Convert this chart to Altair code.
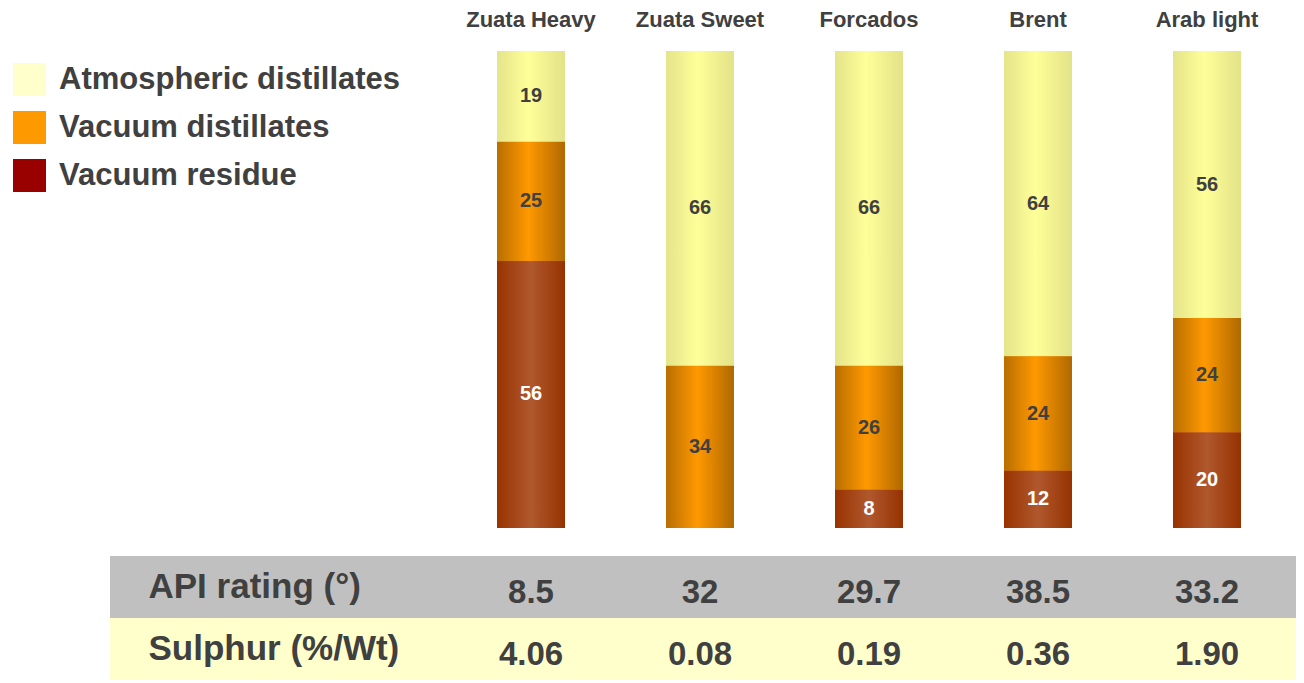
import altair as alt
import pandas as pd

# ---------------- data ----------------
crudes = ["Zuata Heavy", "Zuata Sweet", "Forcados", "Brent", "Arab light"]
components = ["Atmospheric distillates", "Vacuum distillates", "Vacuum residue"]
atmospheric = [19, 66, 66, 64, 56]
vacuum_distillates = [25, 34, 26, 24, 24]
vacuum_residue = [56, 0, 8, 12, 20]
table_rows = ["API rating (°)", "Sulphur (%/Wt)"]
api_rating = ["8.5", "32", "29.7", "38.5", "33.2"]
sulphur = ["4.06", "0.08", "0.19", "0.36", "1.90"]

# ---------------- styles ----------------
TEXT = "#404040"
legend_colors = ["#ffffcc", "#ff9900", "#990000"]
row_colors = ["#c0c0c0", "#ffffcc"]


def grad(stops):
    return alt.Gradient(
        gradient="linear",
        x1=0, x2=1, y1=0, y2=0,
        stops=[alt.GradientStop(color=c, offset=o) for o, c in stops],
    )


gradients = {
    "Atmospheric distillates": grad([(0, "#e4e48a"), (0.46, "#ffff99"), (1, "#e2e288")]),
    "Vacuum distillates": grad([(0, "#b86e00"), (0.46, "#ff9900"), (1, "#b06800")]),
    "Vacuum residue": grad([(0, "#993300"), (0.5, "#b0582e"), (1, "#963200")]),
}

series = {
    components[0]: atmospheric,
    components[1]: vacuum_distillates,
    components[2]: vacuum_residue,
}
stack_rank = {components[2]: 0, components[1]: 1, components[0]: 2}
bars_df = pd.DataFrame(
    [
        {"crude": c, "component": comp, "value": vals[i], "rank": stack_rank[comp]}
        for comp, vals in series.items()
        for i, c in enumerate(crudes)
    ]
)
table_df = pd.DataFrame(
    [
        {"crude": c, "row": r, "text": t}
        for r, vals in zip(table_rows, [api_rating, sulphur])
        for c, t in zip(crudes, vals)
    ]
)
rows_df = pd.DataFrame({"row": table_rows})

# ---------------- scales / encodings ----------------
x_scale = alt.Scale(domain=crudes, range=[336.5, 1181.5],
                    paddingInner=0.598, paddingOuter=0.299)
X = alt.X(
    "crude:N",
    scale=x_scale,
    title=None,
    axis=alt.Axis(
        orient="top", labelFontSize=22, labelFontWeight="bold", labelColor=TEXT,
        labelPadding=25, labelBaseline="alphabetic", labelAngle=0,
        labelOverlap=False, domain=False, ticks=False, tickSize=0, grid=False,
        minExtent=42, maxExtent=42,
    ),
)
y_bar = alt.Scale(domain=[0, 100], range=[477, 0], nice=False, zero=False)
y_tab = alt.Scale(domain=table_rows, range=[505, 629], paddingInner=0, paddingOuter=0)

base = alt.Chart(bars_df).transform_stack(
    stack="value", groupby=["crude"], as_=["y0", "y1"],
    sort=[alt.SortField("rank", order="ascending")],
)

# table background rows (with row labels as axis labels)
rows_layer = alt.Chart(rows_df).mark_rect().encode(
    y=alt.Y(
        "row:N", scale=y_tab, title=None,
        axis=alt.Axis(
            orient="left", labelFontSize=35, labelFontWeight="bold", labelColor=TEXT,
            labelAlign="left", labelPadding=-38, labelLimit=0, domain=False,
            ticks=False, tickSize=0, grid=False, minExtent=102, maxExtent=102, zindex=2,
        ),
    ),
    color=alt.Color("row:N", scale=alt.Scale(domain=table_rows, range=row_colors), legend=None),
)

# flat bars (give the legend)
legend_layer = base.mark_bar().encode(
    x=X,
    y=alt.Y("y0:Q", scale=y_bar, axis=None),
    y2="y1:Q",
    color=alt.Color(
        "component:N",
        scale=alt.Scale(domain=components, range=legend_colors),
        legend=alt.Legend(
            title=None, orient="none", legendX=-97, legendY=12, padding=0,
            symbolType="square", symbolSize=1089, symbolStrokeWidth=0, symbolOpacity=1,
            labelFontSize=31, labelFontWeight="bold", labelColor=TEXT, labelOffset=13,
            labelLimit=600, rowPadding=15,
        ),
    ),
)

grad_layers = [
    base.transform_filter(alt.datum.component == comp)
    .mark_bar(fill=gradients[comp])
    .encode(x=X, y=alt.Y("y0:Q", scale=y_bar, axis=None), y2="y1:Q")
    for comp in components
]

bar_labels = (
    base.transform_filter(alt.datum.value > 0)
    .transform_calculate(mid="(datum.y0 + datum.y1) / 2")
    .mark_text(fontSize=20, fontWeight="bold", baseline="middle")
    .encode(
        x=X,
        y=alt.Y("mid:Q", scale=y_bar, axis=None),
        text="value:Q",
        color=alt.condition("datum.component === 'Vacuum residue'",
                            alt.value("white"), alt.value(TEXT)),
    )
)

table_text = alt.Chart(table_df).mark_text(
    fontSize=33, fontWeight="bold", color=TEXT, baseline="middle", dy=6
).encode(
    x=X,
    y=alt.Y("row:N", scale=y_tab, axis=None),
    text="text:N",
)

chart = (
    alt.layer(rows_layer, legend_layer, *grad_layers, bar_labels, table_text)
    .resolve_scale(y="independent", color="independent")
    .properties(width=1186, height=629, padding=0)
    .configure(font="Liberation Sans")
    .configure_view(stroke=None)
)

chart.save("out.html", embed_options={"renderer": "svg", "actions": False})
